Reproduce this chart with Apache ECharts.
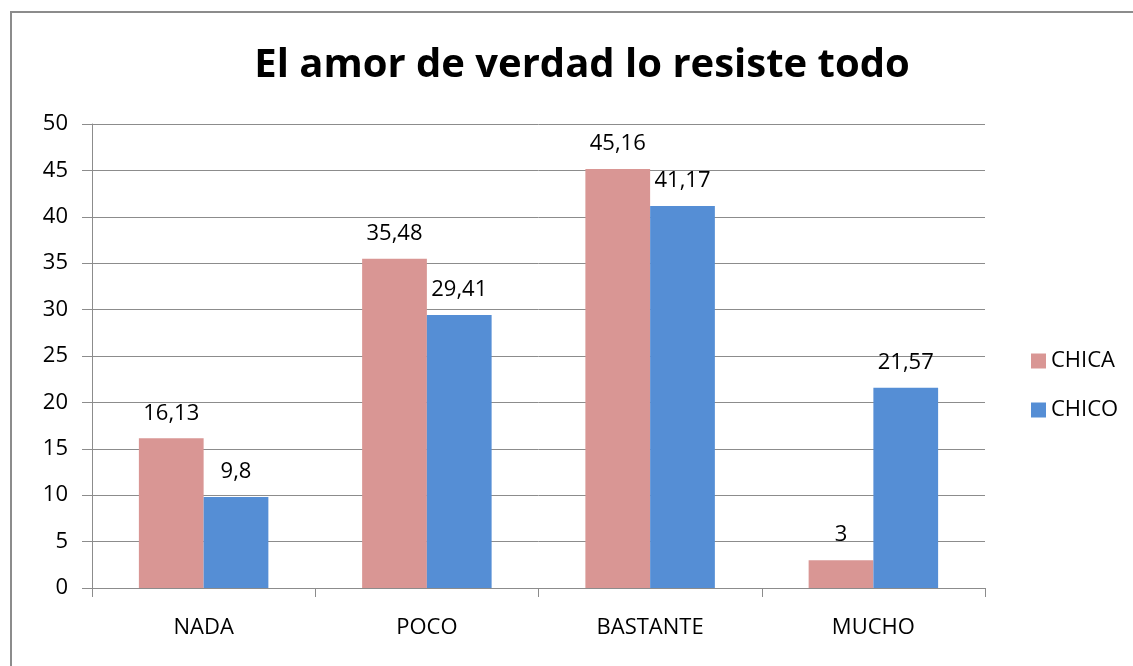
<!DOCTYPE html>
<html>
<head>
<meta charset="utf-8">
<script src="https://cdn.jsdelivr.net/npm/echarts@6/dist/echarts.min.js"></script>
<style>
html,body{margin:0;padding:0;background:#fff;}
#chart{width:1133px;height:666px;}
</style>
</head>
<body>
<div id="chart"></div>
<script>
const categories = ['NADA', 'POCO', 'BASTANTE', 'MUCHO'];
const chica = [16.13, 35.48, 45.16, 3];
const chico = [9.8, 29.41, 41.17, 21.57];
const seriesNames = ['CHICA', 'CHICO'];
const titleText = 'El amor de verdad lo resiste todo';

const fontFam = '"Open Sans", sans-serif';
const fmt = p => String(p.value).replace('.', ',');

const chart = echarts.init(document.getElementById('chart'));
chart.setOption({
  animation: false,
  backgroundColor: '#fff',
  title: {
    text: titleText,
    left: 577, top: 41, textAlign: 'center',
    textStyle: { fontFamily: fontFam, fontWeight: 'bold', fontSize: 40, color: '#000' }
  },
  graphic: [{
    type: 'rect',
    shape: { x: 11, y: 12, width: 1200, height: 700 },
    style: { fill: 'none', stroke: '#8c8c8c', lineWidth: 2 },
    silent: true
  }],
  legend: {
    orient: 'vertical',
    left: 1026, top: 345,
    itemWidth: 15, itemHeight: 15, itemGap: 27,
    icon: 'rect',
    textStyle: { fontFamily: fontFam, fontSize: 22, color: '#000', padding: [0, 0, 0, 0] },
    data: seriesNames
  },
  grid: { left: 92, right: 148, top: 124, bottom: 78 },
  xAxis: {
    type: 'category',
    data: categories,
    axisLine: { lineStyle: { color: '#8c8c8c', width: 1 } },
    axisTick: { show: true, length: 9, lineStyle: { color: '#8c8c8c' } },
    axisLabel: { margin: 29, fontFamily: fontFam, fontSize: 22, color: '#000' }
  },
  yAxis: {
    type: 'value',
    min: 0, max: 50, interval: 5,
    axisLine: { show: true, lineStyle: { color: '#8c8c8c', width: 1 } },
    axisTick: { show: true, length: 10, lineStyle: { color: '#8c8c8c' } },
    axisLabel: { margin: 24, fontFamily: fontFam, fontSize: 22, color: '#000' },
    splitLine: { lineStyle: { color: '#8c8c8c', width: 1 } }
  },
  series: [
    {
      name: seriesNames[0], type: 'bar', data: chica,
      barGap: '0%', barCategoryGap: '42%',
      itemStyle: { color: '#D99694' },
      label: { show: true, position: 'top', distance: 14, formatter: fmt, fontFamily: fontFam, fontSize: 22, color: '#000' }
    },
    {
      name: seriesNames[1], type: 'bar', data: chico,
      barGap: '0%', barCategoryGap: '42%',
      itemStyle: { color: '#558ED5' },
      label: { show: true, position: 'top', distance: 14, formatter: fmt, fontFamily: fontFam, fontSize: 22, color: '#000' }
    }
  ]
});
</script>
</body>
</html>
